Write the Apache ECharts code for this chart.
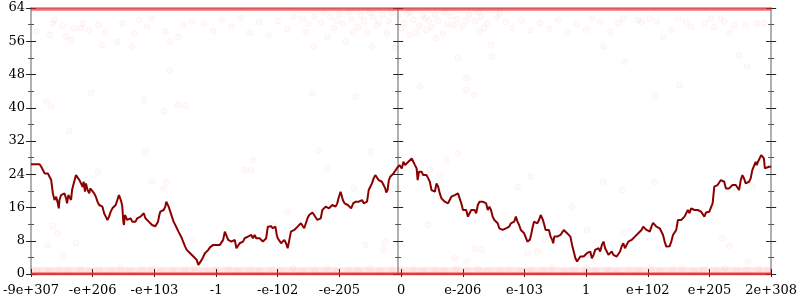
<!DOCTYPE html>
<html><head><meta charset="utf-8">
<script src="https://cdn.jsdelivr.net/npm/echarts@6/dist/echarts.min.js"></script>
<style>html,body{margin:0;padding:0;background:#fff}#c{width:800px;height:300px}</style>
</head><body><div id="c"></div>
<script>
// x positions are measured in tick steps (0..12) along the ordered float axis
const xTickLabels = ['-9e+307','-e+206','-e+103','-1','-e-102','-e-205','0','e-206','e-103','1','e+102','e+205','2e+308'];
const yMin = 0, yMax = 64, yStep = 8;

const trendLine = [
[0,26.4],[0.139,26.4],[0.166,25.8],[0.193,25.4],[0.22,24.2],[0.247,23.8],[0.273,24.2],[0.3,23.4],[0.327,22.6],[0.354,19.4],[0.381,17.8],[0.408,18.6],[0.434,17.0],[0.45,15.8],[0.461,17.8],[0.488,19.0],[0.515,18.6],[0.542,19.4],[0.568,18.2],[0.584,17.0],[0.606,19.0],[0.633,19.4],[0.649,17.8],[0.665,20.2],[0.692,21.8],[0.729,23.8],[0.756,23.4],[0.783,22.6],[0.81,21.8],[0.836,21.0],[0.853,22.2],[0.874,19.8],[0.89,21.8],[0.917,20.2],[0.944,19.4],[0.96,20.6],[0.981,20.2],[1.024,19.4],[1.051,18.6],[1.078,17.4],[1.105,16.6],[1.131,17.0],[1.158,16.2],[1.185,14.6],[1.212,13.8],[1.239,13.0],[1.255,12.6],[1.265,13.8],[1.292,15.0],[1.319,15.8],[1.346,15.4],[1.373,16.6],[1.399,17.8],[1.426,19.0],[1.442,19.4],[1.464,17.4],[1.48,16.2],[1.496,12.6],[1.507,11.8],[1.523,14.2],[1.544,13.8],[1.56,13.0],[1.587,12.6],[1.614,13.4],[1.641,12.6],[1.668,13.0],[1.694,12.6],[1.721,13.4],[1.748,13.8],[1.775,13.8],[1.802,14.2],[1.828,14.6],[1.855,13.4],[1.882,13.8],[1.909,12.6],[1.936,12.2],[1.962,11.8],[1.989,11.8],[2.016,11.5],[2.043,11.4],[2.059,12.6],[2.08,14.2],[2.097,15.0],[2.123,15.4],[2.15,15.4],[2.177,16.2],[2.193,17.4],[2.209,17.8],[2.231,16.2],[2.257,15.8],[2.284,13.8],[2.311,12.6],[2.338,12.6],[2.365,11.0],[2.391,10.2],[2.418,9.8],[2.445,8.6],[2.472,8.2],[2.499,6.6],[2.525,5.8],[2.552,5.4],[2.579,5.0],[2.606,4.6],[2.633,4.2],[2.659,4.2],[2.686,3.4],[2.713,2.2],[2.74,2.6],[2.767,3.4],[2.794,4.2],[2.82,5.0],[2.847,5.4],[2.874,5.8],[2.901,6.4],[2.928,6.6],[2.954,7.0],[2.981,6.6],[3.008,7.0],[3.035,7.0],[3.062,7.0],[3.088,7.1],[3.115,8.2],[3.142,10.2],[3.169,9.8],[3.196,8.2],[3.223,8.2],[3.249,7.8],[3.276,7.8],[3.303,8.2],[3.33,6.2],[3.357,6.6],[3.383,7.4],[3.41,7.0],[3.437,7.8],[3.464,8.6],[3.491,8.6],[3.517,9.0],[3.544,8.6],[3.571,9.4],[3.598,8.6],[3.625,9.4],[3.651,8.6],[3.678,9.0],[3.705,8.6],[3.732,8.2],[3.759,7.8],[3.786,7.8],[3.812,8.6],[3.839,11.4],[3.866,11.5],[3.893,11.5],[3.92,11.0],[3.946,10.6],[3.962,11.4],[3.984,9.4],[4.0,8.6],[4.027,8.2],[4.054,7.4],
[4.080,7.8],[4.107,8.2],[4.134,7.4],[4.161,6.2],[4.188,8.2],[4.214,10.2],[4.241,10.6],[4.268,10.6],[4.295,11.0],[4.322,11.4],[4.349,11.8],[4.375,12.2],[4.402,12.6],[4.429,11.0],[4.456,12.2],[4.483,13.4],[4.509,14.2],[4.536,14.6],[4.563,14.8],[4.590,14.2],[4.617,13.8],[4.643,13.0],[4.670,12.6],[4.697,13.4],[4.724,15.4],[4.751,15.8],[4.777,16.2],[4.804,16.6],[4.831,15.8],[4.858,16.2],[4.885,16.6],[4.912,16.6],[4.938,16.2],[4.965,17.0],[4.992,18.6],[5.019,19.8],[5.035,20.0],[5.056,17.8],[5.083,17.0],[5.110,17.0],[5.137,16.6],[5.164,16.2],[5.190,15.8],[5.206,15.4],[5.223,17.0],[5.244,16.6],[5.265,17.4],[5.287,17.0],[5.314,17.4],[5.340,17.0],[5.367,17.8],[5.394,17.0],[5.421,17.4],[5.448,17.4],[5.475,20.2],[5.501,21.0],[5.528,21.8],[5.555,23.0],[5.582,23.8],[5.609,23.4],[5.635,22.6],[5.662,23.0],[5.689,22.2],[5.716,21.8],[5.743,20.6],[5.759,19.6],[5.780,20.2],[5.802,22.6],[5.823,23.4],[5.850,23.4],[5.877,24.2],[5.903,24.6],[5.930,25.4],[5.957,25.0],[5.973,26.2],[5.995,25.8],[6.011,25.4],[6.038,27.0],[6.064,26.2],[6.091,26.6],[6.118,27.0],[6.145,27.4],[6.172,27.8],[6.198,28.2],[6.225,26.2],[6.252,25.4],[6.268,22.6],[6.290,24.6],[6.306,25.0],[6.332,24.6],[6.359,23.8],[6.386,23.4],[6.413,23.8],[6.440,23.0],[6.466,22.2],[6.493,20.2],[6.520,20.6],[6.547,19.8],[6.574,21.8],[6.601,21.0],[6.627,19.4],[6.654,18.2],[6.681,18.2],[6.708,17.4],[6.735,17.0],[6.761,17.0],[6.788,17.8],[6.815,18.6],[6.842,18.2],[6.869,19.0],[6.895,18.6],[6.922,19.4],[6.949,19.8],[6.976,17.0],[7.003,15.4],[7.029,15.8],[7.056,15.4],[7.083,13.8],[7.110,14.6],[7.137,15.4],[7.164,15.0],[7.190,15.4],[7.217,14.6],[7.244,16.6],[7.271,17.4],[7.298,17.4],[7.324,17.4],[7.351,17.4],[7.378,17.0],[7.405,15.4],[7.432,16.2],[7.458,15.4],[7.485,13.8],[7.512,13.0],[7.539,12.6],[7.566,12.2],[7.592,11.0],[7.619,11.0],[7.646,10.6],[7.673,10.6],[7.700,11.0],[7.727,11.0],[7.753,11.4],[7.780,12.2],[7.807,11.8],[7.834,12.6],[7.861,13.8],[7.887,12.6],[7.914,11.8],[7.941,10.6],[7.968,10.6],[7.995,9.8],[8.021,9.4],[8.048,7.8],
[8.064,7.4],[8.086,8.2],[8.107,9.4],[8.129,11.0],[8.155,12.6],[8.182,13.0],[8.209,12.2],[8.236,13.0],[8.263,14.2],[8.279,14.6],[8.300,13.0],[8.322,11.8],[8.343,10.6],[8.370,10.2],[8.397,10.6],[8.424,9.0],[8.450,8.2],[8.466,7.4],[8.483,9.0],[8.504,9.4],[8.531,9.0],[8.558,9.0],[8.584,9.4],[8.611,9.8],[8.638,10.6],[8.665,10.6],[8.692,9.8],[8.718,9.4],[8.745,9.0],[8.772,7.0],[8.799,5.4],[8.826,3.8],[8.853,3.0],[8.879,3.4],[8.906,4.2],[8.933,4.6],[8.960,4.2],[8.986,4.6],[9.013,5.0],[9.040,4.6],[9.067,5.4],[9.094,3.8],[9.121,4.6],[9.147,5.8],[9.174,5.8],[9.201,6.2],[9.228,5.4],[9.255,7.0],[9.282,7.8],[9.308,6.2],[9.335,5.4],[9.362,4.6],[9.389,5.0],[9.416,5.4],[9.442,4.6],[9.469,4.2],[9.496,4.2],[9.523,4.6],[9.550,5.4],[9.576,6.6],[9.603,7.4],[9.630,6.2],[9.657,7.0],[9.684,7.8],[9.710,8.2],[9.737,8.2],[9.764,8.6],[9.791,9.0],[9.818,9.4],[9.845,9.8],[9.871,10.2],[9.898,10.6],[9.925,11.4],[9.952,11.0],[9.979,10.6],[10.005,10.2],[10.032,10.2],[10.059,11.4],[10.086,12.3],[10.113,12.3],[10.139,11.4],[10.166,11.2],[10.193,11.0],[10.220,10.6],[10.247,9.4],[10.273,7.8],[10.300,6.6],[10.327,6.4],[10.354,6.7],[10.381,7.8],[10.408,9.4],[10.434,9.8],[10.461,10.6],[10.488,13.0],[10.515,12.6],[10.542,13.0],[10.568,13.4],[10.595,13.8],[10.622,14.2],[10.649,15.4],[10.676,14.6],[10.702,15.8],[10.729,15.4],[10.756,15.4],[10.783,15.8],[10.810,15.4],[10.836,15.0],[10.863,15.0],[10.890,14.6],[10.917,13.8],[10.944,14.8],[10.971,14.6],[10.997,15.0],[11.024,15.0],[11.051,17.0],[11.078,21.0],[11.105,21.4],[11.131,21.4],[11.158,21.8],[11.185,22.6],[11.212,23.0],[11.239,22.2],[11.265,20.6],[11.292,20.6],[11.319,20.6],[11.346,20.6],[11.373,21.4],[11.400,21.8],[11.426,21.4],[11.453,21.0],[11.480,20.2],[11.507,22.6],[11.534,23.8],[11.560,23.0],[11.587,21.8],[11.614,21.8],[11.641,22.2],[11.668,23.0],[11.694,25.0],[11.721,25.4],[11.748,27.0],[11.764,26.2],[11.786,27.0],[11.812,26.6],[11.839,28.6],[11.861,29.0],[11.882,27.8],[11.898,25.4],[11.920,25.8],[11.963,25.8],[12,25.8]
];

const topBandPoints = [
[0.09,58.3],[0.30,57.5],[0.35,60.3],[0.38,61.1],[0.51,59.7],[0.57,57.1],[0.65,56.3],[0.70,59.1],[0.81,59.1],[0.84,60.3],[0.94,58.7],[1.10,59.9],[1.16,55.1],[1.21,58.3],[1.40,55.9],[1.48,60.3],[1.64,54.7],[1.67,57.9],[1.75,61.1],[1.88,59.5],[1.96,61.5],[2.18,58.3],[2.26,55.9],[2.39,57.1],[2.47,59.9],[2.61,60.7],
[2.8,60.2],[2.95,58.5],[3.1,61.2],[3.25,59.4],[3.4,61.6],[3.55,58.1],[3.7,60.6],[3.85,57.4],[4.0,60.9],[4.15,59.0],[4.25,61.8],
[4.46,58.3],[4.59,54.7],[4.80,57.1],[4.91,59.1],[5.10,55.9],[5.23,58.3],[5.53,54.7],[5.45,57.9],[5.77,57.9],[5.90,54.3],[6.14,57.5],[6.25,57.9],[6.41,58.7],[6.57,56.7],[6.68,57.9],[6.92,51.9],[7.06,47.1],[7.27,58.3],[7.46,55.1],[7.47,52.3],
[4.4,61.5],[4.6,62],[4.7,60.5],[4.85,61.8],[5.0,62.5],[5.05,60.2],[5.2,61.3],[5.35,62.2],[5.4,60.8],[5.55,61.7],[5.6,59.8],[5.7,62.4],[5.8,60.9],[5.95,61.9],[6.05,60.4],[6.1,62.6],[6.2,61.2],[6.3,59.7],[6.35,62.1],[6.45,60.9],[6.55,62.4],[6.6,61.0],[6.75,60.2],[6.8,62.0],[6.9,61.3],[7.0,59.6],[7.1,62.3],[7.2,60.8],[7.3,61.9],[7.4,60.4],[7.55,61.6],[7.7,60.7],
[4.5,60.2],[4.75,62.8],[4.95,60.9],[5.15,62.9],[5.3,59.4],[5.5,62.9],[5.65,60.6],[5.85,62.9],[6.0,59.1],[6.15,63.0],[6.4,61.6],[6.5,59.4],[6.7,62.9],[6.85,59.9],[7.05,61.0],[7.25,62.9],[7.35,59.2],[7.6,62.7],
[7.8,59.2],[7.95,61.0],[8.1,58.6],[8.25,60.4],[8.4,59.0],[8.55,61.2],[8.7,58.0],[8.85,60.1],[9.0,58.8],[9.1,61.4],
[9.23,60.7],[9.28,54.7],[9.39,58.3],[9.52,60.3],[9.60,61.5],[9.63,51.1],[9.84,61.1],[9.90,60.7],[10.03,61.5],[10.14,60.7],[10.25,57.1],[10.38,58.7],[10.49,61.5],[10.62,60.7],[10.70,59.5],[10.92,60.3],[11.02,61.5],[11.08,59.5],[11.18,61.5],[11.24,60.7],[11.32,57.9],[11.40,59.9],[11.48,52.7],[11.59,59.9],[11.61,49.9],[11.77,60.3],[11.88,60.3]
];

const sparsePoints = [
[10.51,45.5],[10.11,42.7],[4.56,43.5],[5.26,42.7],[6.31,45.1],[7.06,44.3],[7.19,43.1],
[0.25,41.5],[0.33,40.3],[0.97,43.5],[1.83,42.0],[2.16,39.2],[2.25,48.9],[2.38,40.7],[2.50,40.4],[0.62,34.4],
[1.86,29.4],[1.08,24.6],[1.96,22.2],[2.20,22.2],[2.15,20.6],[3.46,25.0],[3.57,25.0],[3.60,27.4],[0.35,11.5],[0.43,9.8],[0.27,7.0],[0.73,7.4],[0.51,4.3],[2.61,8.2],[3.92,11.8],
[4.67,29.8],[5.50,29.4],[4.80,25.4],[4.16,15.0],[4.59,14.6],[5.23,20.6],[6.44,11.8],[6.63,23.8],[6.47,25.0],[6.73,27.4],[6.92,29.0],[5.74,7.8],[5.72,5.8],[5.42,7.0],[7.19,6.2],[7.30,5.8],[6.87,3.8],[7.06,3.0],[7.89,21.0],
[8.10,23.4],[9.28,22.2],[9.58,20.2],[10.11,22.2],[8.77,16.2],[8.61,10.6],[9.01,10.6],[9.61,9.8],[8.34,8.2],[8.21,5.4],[11.21,8.6],[11.32,6.8],[11.62,3.0],[11.70,21.0],[8.05,5.0]
];

const bottomBandPoints = [
[0.1,1.0],[0.3,0.7],[0.45,1.3],[0.6,0.9],[0.8,1.2],[0.95,0.6],[1.1,1.1],[1.3,0.8],[1.45,1.4],[1.6,0.7],[1.8,1.0],[1.95,1.3],[2.1,0.6],[2.3,1.1],[2.5,0.9],[2.65,1.4],[2.85,0.7],[3.0,1.0],[3.2,1.3],[3.35,0.8],[3.55,1.1],[3.7,0.6],[3.9,1.2],[4.05,0.9],[4.25,1.4],[4.4,0.7],[4.6,1.0],[4.8,1.3],[4.95,0.6],[5.15,1.1],[5.3,0.9],[5.5,1.4],[5.65,0.7],[5.85,1.2],[6.0,0.9],[6.2,1.3],[6.35,0.6],[6.55,1.1],[6.7,0.8],[6.9,1.4],[7.05,0.9],[7.25,1.2],[7.4,0.6],[7.6,1.0],[7.75,1.3],[7.95,0.7],[8.1,1.1],[8.3,0.9],[8.45,1.4],[8.65,0.6],[8.8,1.0],[9.0,1.3],[9.15,0.8],[9.35,1.1],[9.5,0.6],[9.7,1.2],[9.85,0.9],[10.05,1.4],[10.2,0.7],[10.4,1.0],[10.55,1.3],[10.75,0.6],[10.9,1.1],[11.1,0.9],[11.25,1.4],[11.45,0.7],[11.6,1.0],[11.8,1.2],[11.95,0.8]
];

// dense rows of overlapping points at the extremes
const topRowValue = 63.7;
const bottomRowValue = 0;
const bottomHazeValue = 0.9;

const FONT = 'DejaVu Serif';
const AXIS_GREY = '#b0b0b0';

function yAxisCfg(position, offset, inside, showLabel, showLine) {
  return {
    type: 'value', min: yMin, max: yMax, interval: yStep, position: position, offset: offset,
    axisLine: { show: showLine, onZero: false, lineStyle: { color: AXIS_GREY, width: 2 } },
    axisTick: { show: true, inside: inside, length: 5, lineStyle: { color: '#222', width: 1 } },
    minorTick: { show: true, splitNumber: 2, length: 3, lineStyle: { color: '#555', width: 1 } },
    axisLabel: { show: showLabel, margin: 6, fontFamily: FONT, fontSize: 13, color: '#000' },
    splitLine: { show: false }, minorSplitLine: { show: false }
  };
}
function xAxisCfg(inside, showLabel, showLine, len) {
  return {
    type: 'value', min: 0, max: xTickLabels.length - 1, interval: 1, position: 'bottom',
    axisLine: { show: showLine, onZero: false, lineStyle: { color: AXIS_GREY, width: 2 } },
    axisTick: { show: true, inside: inside, length: len, lineStyle: { color: '#222', width: 1 } },
    axisLabel: { show: showLabel, margin: 10, fontFamily: FONT, fontSize: 13, color: '#000',
      formatter: function (v) { return xTickLabels[Math.round(v)]; } },
    splitLine: { show: false }
  };
}

const chart = echarts.init(document.getElementById('c'), null, { renderer: 'canvas' });
const xMax = xTickLabels.length - 1;
const faintStyle = { color: 'rgba(255,0,0,0.03)', borderColor: 'rgba(255,0,0,0.07)', borderWidth: 0.8 };
chart.setOption({
  animation: false,
  backgroundColor: '#fff',
  grid: { left: 28, right: 26, top: 8, bottom: 26, show: true, borderColor: AXIS_GREY, borderWidth: 1.5, backgroundColor: 'transparent' },
  xAxis: [ xAxisCfg(false, true, true, 3), xAxisCfg(true, false, false, 5) ],
  yAxis: [
    yAxisCfg('left', 0, false, true, true),
    yAxisCfg('left', 0, true, false, false),
    yAxisCfg('right', -373, false, false, true),
    yAxisCfg('right', -373, true, false, false),
    yAxisCfg('right', 0, false, false, true),
    yAxisCfg('right', 0, true, false, false)
  ],
  series: [
    { type: 'scatter', data: topBandPoints.concat(sparsePoints, bottomBandPoints), symbolSize: 6, itemStyle: faintStyle, silent: true, z: 2 },
    { type: 'line', data: [[0, bottomHazeValue], [xMax, bottomHazeValue]], symbol: 'none', silent: true, lineStyle: { color: 'rgba(255,60,60,0.12)', width: 6 }, z: 3 },
    { type: 'line', data: [[0, topRowValue], [xMax, topRowValue]], symbol: 'none', silent: true, lineStyle: { color: 'rgba(235,30,30,0.65)', width: 3 }, z: 3 },
    { type: 'line', data: [[0, bottomRowValue], [xMax, bottomRowValue]], symbol: 'none', silent: true, lineStyle: { color: 'rgba(235,30,30,0.8)', width: 3 }, z: 3 },
    { type: 'line', data: trendLine, symbol: 'none', silent: true, lineStyle: { color: '#8b0000', width: 2 }, z: 5 }
  ]
});
</script>
</body></html>
